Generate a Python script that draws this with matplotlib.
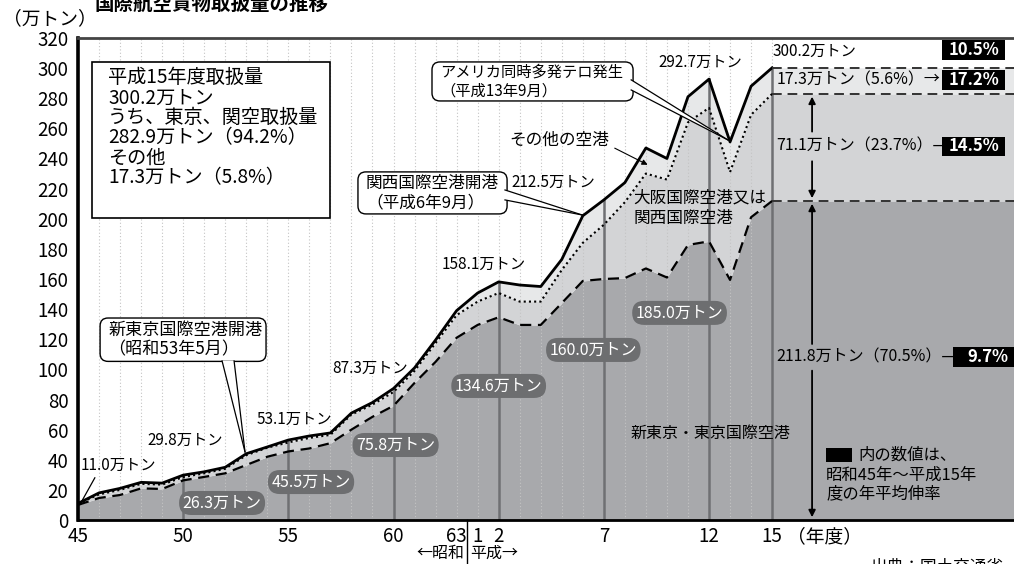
import numpy as np
import matplotlib.pyplot as plt
from matplotlib.patches import FancyBboxPatch, Rectangle, Polygon

plt.rcParams['font.family'] = ['Noto Sans CJK JP', 'DejaVu Sans']

# fiscal years Showa 45 (1970) .. Heisei 15 (2003), unit: 10,000 t
tick_idx = [0, 5, 10, 15, 18, 19, 20, 25, 30, 33]
tick_labels = ['45', '50', '55', '60', '63', '1', '2', '7', '12', '15']

tokyo = [10.0, 14.6, 16.6, 21.0, 20.6, 26.3, 28.6, 31.0, 36.5, 42.0,
         45.5, 47.5, 51.0, 60.0, 68.5, 75.8, 91.0, 105.0, 121.0, 129.5,
         134.6, 129.5, 129.5, 144.0, 158.7, 160.0, 160.6, 167.0, 161.0, 182.6,
         185.0, 159.4, 201.0, 211.8]
tokyo_osaka = [10.8, 17.0, 20.0, 24.0, 23.5, 28.5, 31.0, 34.0, 43.0, 48.0,
               51.5, 54.5, 56.5, 70.0, 76.6, 85.0, 99.0, 117.5, 136.0, 145.0,
               150.7, 145.0, 145.0, 166.0, 184.0, 196.0, 211.0, 230.0, 226.0, 264.0,
               273.6, 231.0, 269.0, 282.9]
total = [11.0, 18.0, 21.0, 25.0, 24.5, 29.8, 32.0, 35.0, 44.0, 48.5,
         53.1, 55.8, 57.8, 71.0, 78.0, 87.3, 101.0, 119.5, 139.0, 150.7,
         158.1, 156.0, 155.0, 173.0, 202.0, 212.5, 224.0, 247.0, 240.0, 281.0,
         292.7, 251.0, 288.0, 300.2]

total_labels = {0: '11.0万トン', 5: '29.8万トン', 10: '53.1万トン', 15: '87.3万トン',
                20: '158.1万トン', 25: '212.5万トン', 30: '292.7万トン', 33: '300.2万トン'}
tokyo_labels = {5: '26.3万トン', 10: '45.5万トン', 15: '75.8万トン',
                20: '134.6万トン', 25: '160.0万トン', 30: '185.0万トン'}
growth = ['10.5%', '17.2%', '14.5%', '9.7%']

XMAX = 44.5
x = np.arange(len(total))
xe = np.append(x, XMAX)
tk = np.append(tokyo, tokyo[-1])
to = np.append(tokyo_osaka, tokyo_osaka[-1])
tt = np.append(total, total[-1])

fig = plt.figure(figsize=(10.14, 5.64), dpi=100)
ax = fig.add_axes([78/1014, 44/564, 936/1014, 482/564])
ax.set_xlim(0, XMAX)
ax.set_ylim(0, 320)

ax.fill_between(xe, 0, tk, color='#a8a9ac', lw=0, zorder=1)
ax.fill_between(xe, tk, to, color='#d3d4d6', lw=0, zorder=1)
ax.fill_between(xe, to, tt, color='#e7e8e9', lw=0, zorder=1)

for i in x:
    ax.plot([i, i], [0, 320], color='#c4c4c4', ls=(0, (1, 2)), lw=0.8, zorder=1.5)
for i in [5, 10, 15, 20, 25, 30, 33]:
    ax.plot([i, i], [0, total[i]], color='#6f7073', lw=1.8, zorder=2)

ax.plot(x, tokyo, color='k', lw=1.6, ls=(0, (5, 3)), zorder=3)
ax.plot(x, tokyo_osaka, color='k', lw=1.5, ls=(0, (1, 1.5)), zorder=3)
ax.plot(x, total, color='k', lw=2.0, zorder=3)
for v in [tokyo[-1], tokyo_osaka[-1], total[-1]]:
    ax.plot([33, XMAX], [v, v], color='#333333', lw=1.4, ls=(0, (5, 3)), zorder=3)

ax.set_yticks(range(0, 321, 20))
ax.set_xticks(tick_idx)
ax.set_xticklabels(tick_labels)
ax.tick_params(length=0, labelsize=13.5)
ax.tick_params(axis='y', pad=7)
ax.tick_params(axis='x', pad=4)
ax.spines['right'].set_visible(False)
ax.spines['left'].set_linewidth(2.6)
ax.spines['bottom'].set_linewidth(2.0)
ax.spines['top'].set_linewidth(2.0)
ax.spines['top'].set_color('#444444')

# value labels on the total line
pos = {0: (1.9, 36.5), 5: (5.1, 53.1), 10: (10.3, 67), 15: (13.9, 101),
       20: (19.3, 170), 25: (22.6, 224.4), 30: (29.6, 303.5), 33: (35.0, 310.8)}
for k, s in total_labels.items():
    ax.text(*pos[k], s, fontsize=11, ha='center', va='center', zorder=5)
ax.plot([0.8, 0.1], [28, 10.5], color='k', lw=0.9, zorder=5)

pill = {5: (6.85, 11.3), 10: (11.08, 25.2), 15: (15.1, 49.8),
        20: (20.0, 89), 25: (24.5, 112.9), 30: (28.6, 137.5)}
for k, s in tokyo_labels.items():
    ax.text(*pill[k], s, fontsize=11.5, ha='center', va='center', color='white', zorder=5,
            bbox=dict(boxstyle='round,pad=0.22,rounding_size=0.75', fc='#6d6e70', ec='none'))

# summary box
ax.add_patch(Rectangle((0.67, 200.5), 11.3, 103.6, fc='white', ec='k', lw=1.2, zorder=6))
info = ['平成15年度取扱量', '300.2万トン', 'うち、東京、関空取扱量',
        '282.9万トン（94.2%）', 'その他', '17.3万トン（5.8%）']
for j, s in enumerate(info):
    ax.text(1.43, 293.5 - j * 13.3, s, fontsize=13.8, va='center', zorder=7)


def callout(lines, fs, x0, y0, x1, y1, b1, b2, tip):
    asp = 21.03 / 1.506
    ax.add_patch(FancyBboxPatch((x0, y0), x1 - x0, y1 - y0,
                                boxstyle='round,pad=0,rounding_size=0.38',
                                mutation_aspect=asp, fc='white', ec='k', lw=1.0, zorder=6))
    ax.add_patch(Polygon([b1, tip, b2], closed=True, fc='white', ec='none', zorder=6.5))
    ax.plot([b1[0], tip[0]], [b1[1], tip[1]], color='k', lw=0.9, zorder=6.6)
    ax.plot([b2[0], tip[0]], [b2[1], tip[1]], color='k', lw=0.9, zorder=6.6)
    ym = (y0 + y1) / 2
    ax.text(x0 + 0.38, ym + 6.5, lines[0], fontsize=fs, va='center', zorder=7)
    ax.text(x0 + 0.38, ym - 6.5, lines[1], fontsize=fs, va='center', zorder=7)


callout(['新東京国際空港開港', '（昭和53年5月）'], 12.3, 1.05, 105.3, 8.94, 134.1,
        (6.85, 105.6), (7.42, 105.6), (7.94, 45.2))
callout(['関西国際空港開港', '（平成6年9月）'], 12, 13.31, 203.2, 20.4, 231.1,
        (20.3, 219.1), (20.3, 212.5), (23.97, 202.5))
callout(['アメリカ同時多発テロ発生', '（平成13年9月）'], 11, 16.83, 278.2, 26.39, 304.1,
        (26.3, 292.2), (26.3, 285.5), (30.9, 252.3))

ax.text(22.9, 252, 'その他の空港', fontsize=12, ha='center', va='center', zorder=5)
ax.annotate('', xy=(27.2, 235), xytext=(25.4, 247.7), zorder=5,
            arrowprops=dict(arrowstyle='-|>', color='k', lw=0.8, mutation_scale=8))
ax.text(26.4, 214, '大阪国際空港又は', fontsize=12, va='center', zorder=5)
ax.text(26.4, 200.5, '関西国際空港', fontsize=12, va='center', zorder=5)
ax.text(30.05, 57.8, '新東京・東京国際空港', fontsize=11.5, ha='center', va='center', zorder=5)

# right-hand breakdown
ax.text(33.2, 292.2, '17.3万トン（5.6%）→', fontsize=11.5, va='center', zorder=5)
ax.text(33.2, 248, '71.1万トン（23.7%）—', fontsize=11.5, va='center', zorder=5)
ax.text(33.2, 108.2, '211.8万トン（70.5%）—', fontsize=11.5, va='center', zorder=5)
boxes = [(41.1, 312), (41.1, 292), (41.1, 248), (41.6, 108.2)]
for (bx, by), s in zip(boxes, growth):
    w = 2.95 if s != '9.7%' else 3.3
    ax.add_patch(Rectangle((bx, by - 6.6), w, 13.2, fc='k', ec='none', zorder=6, clip_on=False))
    ax.text(bx + w / 2, by, s, color='white', fontsize=12, weight='bold',
            ha='center', va='center', zorder=7, clip_on=False)

arr = dict(arrowstyle='-|>', color='k', lw=1.3, mutation_scale=10)
xa = 34.9
ax.annotate('', xy=(xa, tokyo_osaka[-1]), xytext=(xa, 256), arrowprops=arr, zorder=5)
ax.annotate('', xy=(xa, tokyo[-1]), xytext=(xa, 240), arrowprops=arr, zorder=5)
ax.annotate('', xy=(xa, tokyo[-1]), xytext=(xa, 115), arrowprops=arr, zorder=5)
ax.annotate('', xy=(xa, 0), xytext=(xa, 101), arrowprops=arr, zorder=5)

ax.add_patch(Rectangle((35.57, 38.5), 1.25, 9.5, fc='k', ec='none', zorder=6))
ax.text(37.1, 43.3, '内の数値は、', fontsize=11.8, va='center', zorder=6)
ax.text(35.57, 30.0, '昭和45年～平成15年', fontsize=11.8, va='center', zorder=6)
ax.text(35.57, 17.2, '度の年平均伸率', fontsize=11.8, va='center', zorder=6)

# axis extras
ax.plot([18.5, 18.5], [0, -32], color='k', lw=1, clip_on=False)
ax.text(18.35, -22, '←昭和', fontsize=11.5, ha='right', va='center')
ax.text(18.65, -22, '平成→', fontsize=11.5, ha='left', va='center')
ax.text(33.7, -11, '（年度）', fontsize=13.5, va='center')

fig.text(95/1014, 1 - 4/564, '国際航空貨物取扱量の推移', fontsize=14, weight='bold', va='center')
fig.text(3/1014, 1 - 19/564, '（万トン）', fontsize=13.5, va='center')
fig.text(870/1014, -3/564, '出典：国土交通省', fontsize=12, va='center')

fig.savefig('out.png', dpi=100)
